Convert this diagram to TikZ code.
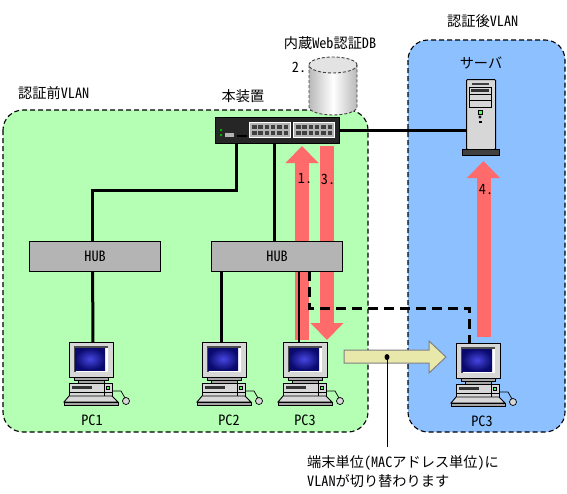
\documentclass[tikz,border=0pt]{standalone}
\usepackage{fontspec}
\setmainfont{Noto Sans CJK JP}[RawFeature=+hwid]
\usepackage{xcolor}
\usetikzlibrary{arrows.meta}
\definecolor{greenzone}{RGB}{180,255,180}
\definecolor{bluezone}{RGB}{140,192,255}
\definecolor{flowred}{RGB}{255,107,107}
\definecolor{hubgray}{RGB}{180,180,180}
\definecolor{casegray}{RGB}{215,215,215}
\definecolor{moveyellow}{RGB}{232,232,170}
\definecolor{scrblue}{RGB}{70,70,225}
\definecolor{scrnavy}{RGB}{10,10,110}

\begin{document}
\begin{tikzpicture}[
  x=1pt, y=-1pt,
  font=\fontsize{14.2}{17}\selectfont,
  zone/.style={draw, dashed, line width=1.1pt, rounded corners=20pt, dash pattern=on 5pt off 3pt},
  hubbox/.style={draw, line width=1.2pt, fill=hubgray, minimum width=131pt, minimum height=30pt, inner sep=0pt},
  link/.style={line width=3pt},
  thinlink/.style={line width=2pt},
  movelink/.style={line width=3pt, dash pattern=on 10pt off 6pt},
  flow/.style={-{Triangle[length=17pt,width=32pt]}, line width=14pt, flowred},
  dbedge/.style={densely dashed, draw=gray!50!black, line width=0.9pt},
  txt/.style={inner sep=0pt},
  pcicon/.pic={
    \node[draw, line width=0.9pt, fill=casegray, anchor=north west, minimum width=44pt, minimum height=35pt, inner sep=0pt] (-mon) at (0,0) {};
    \fill[gray!60!black] (5,4) rectangle (39,30);
    \fill[white] (7,6) rectangle (39,30);
    \shade[inner color=scrblue, outer color=scrnavy] (6,6) rectangle (36,28);
    \draw[line width=0.8pt, fill=gray!70] (5,35) rectangle (39,38);
    \draw[line width=0.8pt, fill=gray!70] (9,38) rectangle (35,41);
    \draw[line width=0.9pt, fill=casegray] (0,41) rectangle (43,54);
    \draw[line width=0.8pt] (0,50) -- (43,50) (35,41) -- (35,54);
    \fill[gray!40!black] (3,44) rectangle (23,47);
    \draw[line width=0.6pt, fill=green!70] (37,44) rectangle (40,47);
    \draw[line width=0.9pt, fill=casegray] (0,54) -- (43,54) -- (49,60) -- (-5,60) -- cycle;
    \draw[line width=0.9pt, fill=gray!70] (-5,60) rectangle (49,63);
    \draw[line width=0.7pt] (43,49) -- (52,49) -- (56,56);
    \draw[line width=0.7pt, fill=casegray] (57,59) circle (3.5pt);
  }
]
  \useasboundingbox (0,0) rectangle (567,493);
  \fill[white] (0,0) rectangle (567,493);

  % VLAN areas
  \draw[zone, fill=greenzone] (3,110) rectangle (368,432);
  \draw[zone, fill=bluezone] (408,40) rectangle (565,432);
  \node[txt, anchor=west] (beforelabel) at (18,93) {認証前VLAN};
  \node[txt, anchor=west] (afterlabel) at (447,21) {認証後VLAN};

  % DB
  \shade[left color=gray!55, right color=gray!55, middle color=white]
    (309,65) -- (309,107) arc[start angle=180, end angle=360, x radius=24pt, y radius=8pt]
    -- (357,65) arc[start angle=0, end angle=180, x radius=24pt, y radius=8pt];
  \draw[dbedge, fill=gray!22] (333,65) ellipse (24pt and 8pt);
  \draw[dbedge]
    (309,65) -- (309,107) arc[start angle=180, end angle=360, x radius=24pt, y radius=8pt] -- (357,65);
  \node[txt] (dblabel) at (330,43) {内蔵Web認証DB};
  \node[txt] (steptwo) at (299,67) {2.};

  % flows
  \coordinate (upfoot) at (302,340);
  \coordinate (uptip) at (302,146);
  \coordinate (downtop) at (327,146);
  \coordinate (downtip) at (327,340);
  \coordinate (srvfoot) at (483.5,337);
  \coordinate (srvtip) at (483.5,161);
  \draw[flow] (upfoot) -- (uptip);
  \draw[flow] (downtop) -- (downtip);
  \draw[flow] (srvfoot) -- (srvtip);
  \node[txt] (stepone) at (305,179) {1.};
  \node[txt] (stepthree) at (328,179) {3.};
  \node[txt] (stepfour) at (486,190) {4.};

  % devices
  \node[draw, line width=1pt, fill=black!85, anchor=north west, minimum width=124pt, minimum height=26pt, inner sep=0pt] (switch) at (215,117) {};
  \node[txt] (switchlabel) at (243,96) {本装置};
  \foreach \px in {249,293} {
    \draw[white, line width=0.8pt, fill=hubgray] (\px,122) rectangle ++(41,15);
    \foreach \i in {0,...,5} {
      \fill[black!75] (\px+3+6.3*\i,125) rectangle ++(4.5,3.8);
      \fill[black!75] (\px+3+6.3*\i,131) rectangle ++(4.5,3.8);
    }
  }
  \fill[green!70!black] (220,129) rectangle ++(2,2) (220,134) rectangle ++(2,2);
  \fill[hubgray] (225,133) rectangle ++(9,4);
  \fill[black] (237,135) rectangle ++(10,2);

  \node[hubbox, anchor=north west] (hubleft) at (29,241) {HUB};
  \node[hubbox, anchor=north west] (hubmid) at (211,241) {HUB};

  \pic (pcone) at (69,342) {pcicon};
  \pic (pctwo) at (202,342) {pcicon};
  \pic (pcthree) at (283,342) {pcicon};
  \pic (pcmoved) at (456,343) {pcicon};
  \node[txt] (pconelabel) at (92,420) {PC1};
  \node[txt] (pctwolabel) at (229,420) {PC2};
  \node[txt] (pcthreelabel) at (305,420) {PC3};
  \node[txt] (pcmovedlabel) at (482,421) {PC3};

  % server
  \node[draw, line width=1pt, fill=casegray, rounded corners=1pt, anchor=north west, minimum width=29pt, minimum height=70pt, inner sep=0pt] (server) at (466,79) {};
  \draw[line width=0.9pt, fill=gray!50!black] (462,149) rectangle (499,155);
  \fill[gray!50!black] (472,83) rectangle (489,85);
  \draw[line width=0.8pt] (469,87) rectangle (491,107) (469,94) -- (491,94) (469,100) -- (491,100);
  \fill[gray!40!black] (471,89) rectangle (489,92);
  \draw[line width=0.8pt, fill=green!70] (478,110) rectangle (482,114);
  \draw[line width=0.7pt] (480,117) circle (1.2pt);
  \fill (478.5,121) rectangle (481.5,123);
  \node[txt] (serverlabel) at (481,63) {サーバ};

  % cables
  \draw[link] (switch.east) -- (server.west |- switch.east);
  \draw[link] ([xshift=-41pt]switch.south) |- (92,190) -- (92,241);
  \draw[link] ([xshift=-3pt]switch.south) -- ([xshift=-3pt]switch.south |- hubmid.north);
  \draw[link] (hubleft.south) ++(-2.5,0) -- ([xshift=1.5pt]pcone-mon.north);
  \draw[link] ([xshift=-3pt]pctwo-mon.north) -- ([xshift=-3pt]pctwo-mon.north |- hubmid.south);
  \draw[thinlink] ([xshift=-6pt]pcthree-mon.north) -- ([xshift=-6pt]pcthree-mon.north |- hubmid.south);
  \draw[movelink] (309,271) |- (469,308) -- (469,343);

  % move arrow
  \draw[draw=gray, line width=1pt, fill=moveyellow]
    (344,350) -- (429,350) -- (429,341) -- (446,357) -- (429,373) -- (429,363) -- (344,363) -- cycle;
  \fill (387,357) ellipse (2.5pt and 3pt);
  \coordinate (notefoot) at (387,447);
  \draw[line width=1pt] (387,357) -- (notefoot);
  \node[txt, anchor=west] (noteone) at (307,463) {端末単位(MACアドレス単位)に};
  \node[txt, anchor=west] (notetwo) at (307,481) {VLANが切り替わります};
\end{tikzpicture}
\end{document}
